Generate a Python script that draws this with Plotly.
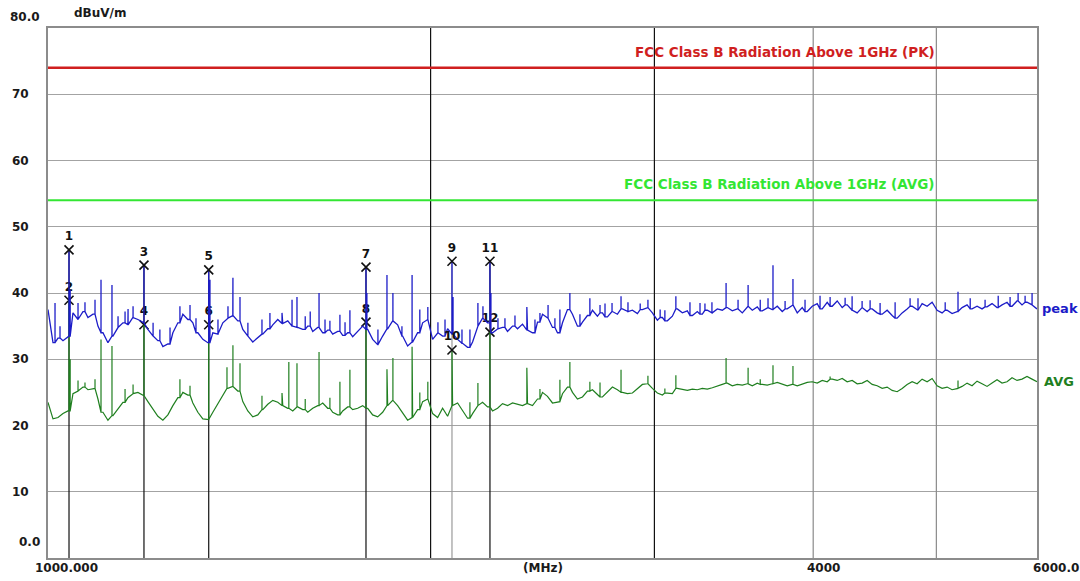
import math
import numpy as np
import plotly.graph_objects as go

# ---------------- data ----------------
F_START = 1000.0
F_STOP = 6000.0
N_SWEEP = 199

# sweep levels (dBuV/m), one per sweep point
peak_level = [
    37.5, 32.5, 33.2, 32.8, 33.5, 37.0, 36.0, 37.2, 36.3, 36.8,
    35.0, 34.0, 32.5, 33.5, 34.8, 35.5, 35.2, 36.3, 36.0, 35.5,
    34.5, 33.5, 32.8, 31.9, 32.3, 34.0, 35.5, 36.8, 36.0, 35.5,
    34.0, 33.0, 32.5, 34.0, 33.8, 35.5, 36.2, 36.6, 35.8, 34.5,
    33.5, 32.6, 33.2, 33.8, 34.6, 35.2, 36.0, 35.4, 35.8, 35.0,
    34.8, 34.5, 35.0, 34.2, 34.8, 34.0, 34.4, 33.8, 34.2, 33.6,
    34.0, 33.4, 34.2, 35.0, 34.5, 33.0, 32.2, 33.5, 34.6, 35.8,
    35.2, 33.5, 32.0, 32.6, 34.0, 35.5, 36.0, 33.0, 34.0, 33.5,
    34.6, 33.8, 33.0, 32.4, 31.8, 32.6, 35.0, 36.2, 35.5, 34.0,
    34.6, 34.8, 34.2, 35.0, 34.6, 35.3, 34.4, 34.0, 35.6, 36.8,
    36.2, 34.8, 34.0, 35.5, 37.5, 36.8, 35.0, 35.6, 36.6, 37.4,
    36.5, 37.0, 36.4, 37.2, 36.8, 37.6, 37.2, 37.4, 36.9, 37.5,
    37.8, 37.0, 35.9, 36.3, 35.8, 36.5, 37.6, 37.0, 37.3, 36.6,
    37.2, 36.8, 37.4, 37.0, 37.6, 37.4, 37.8, 37.3, 37.6, 37.0,
    38.0, 37.4, 37.9, 37.3, 37.8, 37.5, 38.0, 37.2, 37.6, 38.2,
    37.0, 37.8, 37.2, 38.0, 38.4, 37.6, 38.6, 38.0, 38.8, 37.8,
    38.2, 37.4, 37.0, 37.8, 37.2, 37.6, 37.0, 36.8, 37.4, 36.6,
    36.2, 37.0, 37.6, 38.0, 37.4, 38.4, 38.0, 38.6, 37.4, 37.0,
    37.4, 36.9, 37.2, 37.8, 38.2, 37.6, 38.0, 37.6, 37.9, 38.4,
    37.8, 38.2, 38.6, 38.0, 38.8, 38.2, 38.6, 38.2, 37.6,
]

avg_level = [
    23.5, 21.0, 21.2, 21.8, 22.2, 24.8, 25.2, 25.8, 25.4, 25.6,
    24.0, 22.0, 20.8, 21.5, 22.6, 23.5, 24.2, 24.8, 25.0, 24.5,
    23.6, 22.5, 21.4, 20.8, 21.6, 23.0, 24.2, 25.0, 24.6, 23.4,
    22.0, 21.0, 20.9, 22.0, 23.2, 24.5, 25.6, 25.9, 25.2, 23.6,
    22.2, 21.3, 21.6, 22.4, 23.2, 23.8, 23.5, 23.0, 22.6, 22.2,
    22.8, 22.4, 22.0, 22.6, 23.0, 23.4, 22.6, 22.0, 21.6, 22.2,
    22.8, 22.4, 22.6, 23.0, 22.6, 21.6, 21.3, 22.0, 23.0, 23.8,
    23.0, 21.8, 20.8, 21.2, 22.4, 23.6, 24.0, 21.8, 21.2, 22.6,
    21.4, 23.0, 23.4, 22.2, 21.1, 21.8, 23.0, 23.5, 22.8, 22.2,
    22.6, 23.3, 23.0, 23.4, 23.2, 23.0, 23.3, 23.0, 24.0, 25.0,
    24.4, 23.4, 23.6, 24.8, 25.8, 25.0, 24.0, 24.3, 25.2, 25.4,
    24.6, 24.3, 25.0, 25.8, 25.4, 25.0, 24.8, 24.9, 25.6, 26.2,
    26.3, 25.6, 24.9, 24.6, 24.9, 24.8, 25.6, 25.4, 25.3, 25.5,
    25.4, 25.6, 25.5, 25.7, 25.9, 26.2, 26.4, 26.0, 26.2, 26.1,
    26.3, 26.0, 26.4, 26.2, 26.1, 26.3, 26.5, 26.2, 26.0, 26.2,
    26.0, 26.3, 26.5, 26.6, 26.4, 26.8, 26.6, 27.0, 26.8, 27.1,
    26.6, 26.8, 26.3, 26.4, 26.8, 26.2, 26.0, 25.6, 25.8, 25.3,
    25.1, 25.6, 26.2, 26.6, 26.3, 27.0, 26.6, 27.1, 26.0, 25.6,
    25.8, 25.4, 25.6, 25.9, 26.4, 26.0, 26.7, 26.3, 25.9, 26.4,
    26.9, 26.4, 26.6, 27.2, 26.8, 27.0, 27.4, 27.0, 26.6,
]

# narrow emissions (frequency MHz, top level dBuV/m)
peak_spike_freq = [
    1012.8, 1022.0, 1041.0, 1055.9, 1069.3, 1088.9, 1100.8, 1122.9, 1135.3,
    1149.8, 1156.1, 1166.6, 1209.7, 1224.7, 1247.4, 1270.0, 1293.4, 1307.5,
    1341.0, 1360.6, 1385.5, 1398.0, 1416.0, 1436.4, 1473.5, 1494.9, 1528.0,
    1556.0, 1570.0, 1593.6, 1608.1, 1634.0, 1651.8, 1666.5, 1697.0, 1712.8,
    1728.0, 1782.0, 1818.0, 1848.0, 1868.0, 1898.8, 1934.0, 1961.3, 1990.0,
    2026.8, 2052.9, 2083.0, 2117.0, 2147.7, 2179.0, 2199.0, 2231.0, 2259.6,
    2288.4, 2330.3, 2381.0, 2416.3, 2438.2, 2474.3, 2505.2, 2528.0, 2574.0,
    2621.4, 2669.0, 2718.5, 2743.2, 2778.3, 2824.0, 2859.8, 2923.8, 2965.0,
    3031.4, 3057.5, 3119.0, 3199.7, 3258.4, 3287.7, 3329.6, 3416.0, 3490.9,
    3555.0, 3634.0, 3685.7, 3719.0, 3801.4, 3856.0, 3941.3, 4049.9, 4124.5,
    4238.1, 4292.1, 4370.6, 4434.4, 4515.4, 4639.9, 4767.6, 4836.4, 5080.6,
    5200.0, 5316.2, 5461.4, 5592.8, 5714.5, 5798.0, 5871.9, 5946.6,
]
peak_spike_top = [
    38.5, 35.0, 40.5, 38.5, 38.6, 39.0, 42.0, 41.2, 36.5,
    37.2, 37.6, 38.0, 35.5, 34.5, 34.8, 38.0, 38.2, 36.2,
    42.0, 36.0, 38.0, 42.3, 39.4, 35.5, 36.0, 37.0, 37.0,
    39.0, 39.4, 36.5, 37.2, 40.0, 36.0, 35.8, 36.7, 35.6,
    37.4, 40.0, 34.5, 42.7, 40.0, 35.0, 42.7, 37.5, 37.9,
    35.6, 36.0, 39.4, 34.5, 34.5, 38.5, 38.0, 40.0, 36.2,
    36.2, 36.6, 37.9, 36.0, 37.0, 38.2, 36.2, 37.5, 40.0,
    36.8, 39.2, 38.2, 38.4, 38.5, 39.5, 38.6, 38.4, 39.0,
    37.5, 37.4, 39.5, 38.6, 38.5, 38.4, 38.6, 41.5, 39.0,
    41.2, 39.0, 39.2, 44.2, 38.8, 42.1, 39.0, 39.6, 39.4,
    39.3, 39.5, 38.8, 38.9, 38.5, 38.6, 39.2, 39.2, 38.6,
    40.2, 39.2, 39.0, 39.6, 39.4, 40.0, 39.6, 40.0,
]

avg_spike_freq = [
    1041.0, 1055.9, 1069.3, 1088.9, 1100.8, 1122.9, 1149.8, 1166.6, 1270.0,
    1293.4, 1383.0, 1398.0, 1416.0, 1473.5, 1528.0, 1547.0, 1570.0, 1593.6,
    1634.0, 1666.5, 1697.0, 1728.0, 1848.0, 1868.0, 1934.0, 1961.3, 1990.0,
    2147.7, 2179.0, 2381.0, 2438.2, 2528.0, 2574.0, 2669.0, 2718.5, 2824.0,
    2965.0, 3057.5, 3119.0, 3416.0, 3555.0, 3634.0, 3719.0, 3856.0, 4124.5,
    5200.0,
]
avg_spike_top = [
    30.0, 26.8, 26.5, 27.0, 33.0, 32.0, 25.5, 26.2, 27.0,
    26.0, 28.8, 32.1, 29.4, 24.5, 24.9, 29.6, 29.4, 24.0,
    31.1, 24.2, 26.6, 28.4, 28.5, 30.2, 31.9, 25.0, 26.6,
    23.5, 26.4, 28.7, 25.5, 26.9, 29.6, 26.6, 26.5, 28.4,
    27.5, 25.6, 27.6, 30.2, 28.7, 27.0, 29.1, 29.0, 27.4,
    26.8,
]

# measurement markers (odd = peak, even = average)
marker_no = [1, 2, 3, 4, 5, 6, 7, 8, 9, 10, 11, 12]
marker_freq = [1038.8, 1038.8, 1189.9, 1189.9, 1338.0, 1338.0,
               1779.1, 1779.1, 2079.0, 2079.0, 2227.1, 2227.1]
marker_level = [46.5, 38.9, 44.2, 35.2, 43.5, 35.2,
                43.9, 35.6, 44.8, 31.4, 44.8, 34.1]

limit_names = ["FCC Class B Radiation Above 1GHz (PK)",
               "FCC Class B Radiation Above 1GHz (AVG)"]
limit_level = [74.0, 54.0]

major_freq = [2000.0, 3000.0, 4000.0, 5000.0]
y_ticks = [0, 10, 20, 30, 40, 50, 60, 70, 80]
y_tick_text = ["0.0", "10", "20", "30", "40", "50", "60", "70", "80.0"]
x_label_freq = [1000.0, 4000.0, 6000.0]
x_label_text = ["1000.000", "4000", "6000.0"]

# ---------------- styles ----------------
BLUE = "#1c1cc8"
DKGREEN = "#1f7f1f"
RED = "#d01f1f"
LTGREEN = "#33e633"
FONT = "DejaVu Sans"
major_colors = ["#111111", "#111111", "#8a8a8a", "#8a8a8a"]

assert len(peak_level) == N_SWEEP and len(avg_level) == N_SWEEP
assert len(peak_spike_freq) == len(peak_spike_top)
assert len(avg_spike_freq) == len(avg_spike_top)

sweep = np.geomspace(F_START, F_STOP, N_SWEEP)
log_sweep = np.log10(sweep)


def build_trace(levels, spike_f, spike_t):
    pts = [(float(f), float(v)) for f, v in zip(sweep, levels)]
    for f, top in zip(spike_f, spike_t):
        k = int(np.argmin(np.abs(log_sweep - math.log10(f))))
        base = levels[k]
        pts += [(f, base), (f, top), (f, base)]
    pts.sort(key=lambda p: p[0])
    return [p[0] for p in pts], [p[1] for p in pts]


pk_f = peak_spike_freq + marker_freq[0::2]
pk_t = peak_spike_top + marker_level[0::2]
av_f = avg_spike_freq + marker_freq[1::2]
av_t = avg_spike_top + marker_level[1::2]

px, py = build_trace(peak_level, pk_f, pk_t)
ax_, ay_ = build_trace(avg_level, av_f, av_t)

fig = go.Figure()

# major vertical grid lines
for f, c in zip(major_freq, major_colors):
    fig.add_trace(go.Scatter(x=[f, f], y=[0, 80], mode="lines",
                             line=dict(color=c, width=1.2),
                             hoverinfo="skip", showlegend=False))

# marker drop lines
for i in range(0, len(marker_freq), 2):
    col = "#9a9a9a" if marker_no[i] == 9 else "#111111"
    fig.add_trace(go.Scatter(x=[marker_freq[i], marker_freq[i]],
                             y=[0, marker_level[i]], mode="lines",
                             line=dict(color=col, width=1.2),
                             hoverinfo="skip", showlegend=False))

# limit lines
for lvl, col, w in zip(limit_level, [RED, LTGREEN], [2.6, 2.0]):
    fig.add_trace(go.Scatter(x=[F_START, F_STOP], y=[lvl, lvl], mode="lines",
                             line=dict(color=col, width=w),
                             hoverinfo="skip", showlegend=False))


def marker_trace(idx):
    return go.Scatter(
        x=[marker_freq[i] for i in idx], y=[marker_level[i] for i in idx],
        mode="markers+text",
        marker=dict(symbol="x-thin", size=9, line=dict(color="#111111", width=1.6)),
        text=[f"<b>{marker_no[i]}</b>" for i in idx], textposition="top center",
        textfont=dict(family=FONT, size=12, color="#111111"),
        hoverinfo="skip", showlegend=False)


# average-detector markers sit beneath the traces
fig.add_trace(marker_trace([i for i in range(len(marker_no)) if marker_no[i] % 2 == 0 and marker_no[i] != 10]))

# measurement traces
fig.add_trace(go.Scatter(x=ax_, y=ay_, mode="lines",
                         line=dict(color=DKGREEN, width=1.2),
                         name="AVG", showlegend=False))
fig.add_trace(go.Scatter(x=px, y=py, mode="lines",
                         line=dict(color=BLUE, width=1.3),
                         name="peak", showlegend=False))

# peak markers (and marker 10, clearly visible) on top
fig.add_trace(marker_trace([i for i in range(len(marker_no)) if marker_no[i] % 2 == 1 or marker_no[i] == 10]))

ann = []
# y tick labels
for v, t in zip(y_ticks, y_tick_text):
    if t == "80.0":
        ann.append(dict(x=0, y=v, xref="paper", yref="y", text=f"<b>{t}</b>",
                        xanchor="right", xshift=-6, yshift=11, showarrow=False))
    elif t == "0.0":
        ann.append(dict(x=0, y=v, xref="paper", yref="y", text=f"<b>{t}</b>",
                        xanchor="right", xshift=-6, yshift=16, showarrow=False))
    else:
        ann.append(dict(x=0, y=v, xref="paper", yref="y", text=f"<b>{t}</b>",
                        xanchor="left", xshift=-38, showarrow=False))
# x labels
for f, t, s in zip(x_label_freq, x_label_text, [18, 10, 19]):
    ann.append(dict(x=math.log10(f), y=0, xref="x", yref="paper",
                    text=f"<b>{t}</b>", xanchor="center", yanchor="middle",
                    xshift=s, yshift=-10, showarrow=False))
ann.append(dict(x=0.5, y=0, xref="paper", yref="paper", text="<b>(MHz)</b>",
                xanchor="center", yanchor="middle", yshift=-10, showarrow=False))
ann.append(dict(x=0, y=1, xref="paper", yref="paper", text="<b>dBuV/m</b>",
                xanchor="center", yanchor="middle", xshift=52, yshift=15,
                showarrow=False))
# limit labels
for name, lvl, col in zip(limit_names, limit_level, [RED, LTGREEN]):
    ann.append(dict(x=0.899, y=lvl, xref="paper", yref="y",
                    text=f"<b>{name}</b>", xanchor="right", yanchor="middle",
                    yshift=16, showarrow=False,
                    font=dict(family=FONT, size=13.5, color=col)))
# trace labels
ann.append(dict(x=1, y=peak_level[-1], xref="paper", yref="y", text="<b>peak</b>",
                xanchor="left", xshift=3, showarrow=False,
                font=dict(family=FONT, size=13, color=BLUE)))
ann.append(dict(x=1, y=avg_level[-1], xref="paper", yref="y", text="<b>AVG</b>",
                xanchor="left", xshift=5, showarrow=False,
                font=dict(family=FONT, size=13, color=DKGREEN)))

fig.update_layout(
    width=1080, height=581,
    margin=dict(l=48, r=43, t=28, b=23),
    paper_bgcolor="white", plot_bgcolor="white",
    font=dict(family=FONT, size=12, color="#1a1a1a"),
    annotations=ann,
    xaxis=dict(type="log", range=[math.log10(F_START), math.log10(F_STOP)],
               showgrid=False, showticklabels=False, ticks="", zeroline=False,
               showline=True, mirror=True, linecolor="#8c8c8c", linewidth=2),
    yaxis=dict(range=[0, 80], tickvals=y_ticks, showgrid=True,
               gridcolor="#a3a3a3", gridwidth=1, showticklabels=False,
               ticks="", zeroline=False, showline=True, mirror=True,
               linecolor="#8c8c8c", linewidth=2),
)

fig.write_html("out.html")
